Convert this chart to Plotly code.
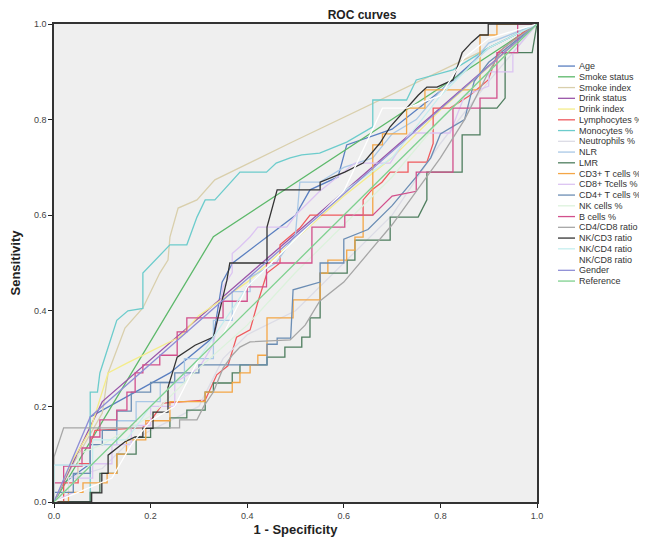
import plotly.graph_objects as go

# ---------------- data ----------------
series_names = ["Age", "Smoke status", "Smoke index", "Drink status", "Drink index",
                "Lymphocytes %", "Monocytes %", "Neutrophils %", "NLR", "LMR",
                "CD3+ T cells %", "CD8+ Tcells %", "CD4+ T cells %", "NK cells %",
                "B cells %", "CD4/CD8 ratio", "NK/CD3 ratio", "NK/CD4 ratio",
                "NK/CD8 ratio", "Gender", "Reference"]

series_colors = ["#5a7fc0", "#5cb86a", "#d9cfac", "#9a55a8", "#f4ec8a",
                 "#ef5a5e", "#6ccccc", "#dcdce6", "#a9c8e6", "#4e7d5e",
                 "#f4a646", "#dcc4f2", "#6b8db4", "#dcf2dc",
                 "#d2508c", "#a6a6a6", "#333333", "#c6eeee",
                 "#ffffff", "#8e8ed6", "#7ed08e"]

age_x = [0, 0.02, 0.075, 0.075, 0.24, 0.33, 0.348, 0.37, 0.5, 0.53, 0.588, 0.606, 0.7, 0.8, 0.9, 1]
age_y = [0, 0.04, 0.08, 0.178, 0.27, 0.345, 0.46, 0.5, 0.6, 0.653, 0.68, 0.747, 0.78, 0.86, 0.95, 1]

smoke_status_x = [0, 0.33, 1]
smoke_status_y = [0, 0.555, 1]

smoke_index_x = [0, 0.04, 0.1, 0.112, 0.147, 0.184, 0.219, 0.236, 0.24, 0.257, 0.296, 0.333, 0.489, 0.882, 1]
smoke_index_y = [0, 0.08, 0.186, 0.27, 0.364, 0.406, 0.479, 0.506, 0.554, 0.615, 0.632, 0.674, 0.751, 0.941, 1]

drink_status_x = [0, 0.1, 1]
drink_status_y = [0, 0.21, 1]

drink_index_x = [0, 0.04, 0.075, 0.112, 0.15, 0.26, 0.3, 0.4, 0.5, 0.6, 0.7, 0.8, 0.9, 1]
drink_index_y = [0, 0.09, 0.15, 0.27, 0.29, 0.345, 0.39, 0.46, 0.55, 0.64, 0.72, 0.82, 0.91, 1]

lympho_x = [0, 0.02, 0.02, 0.05, 0.05, 0.075, 0.075, 0.085, 0.182, 0.2, 0.226, 0.313, 0.337, 0.36,
            0.378, 0.406, 0.422, 0.441, 0.468, 0.468, 0.509, 0.53, 0.64, 0.64, 0.658, 0.679, 0.696,
            0.733, 0.733, 0.772, 0.785, 0.785, 0.82, 0.86, 0.899, 0.919, 0.986, 1]
lympho_y = [0, 0, 0.04, 0.04, 0.08, 0.08, 0.12, 0.15, 0.155, 0.17, 0.207, 0.213, 0.266, 0.285,
            0.345, 0.36, 0.418, 0.479, 0.5, 0.538, 0.573, 0.6, 0.6, 0.632, 0.653, 0.669, 0.69,
            0.69, 0.711, 0.711, 0.75, 0.824, 0.824, 0.85, 0.883, 0.94, 0.994, 1]

mono_x = [0, 0.075, 0.075, 0.09, 0.095, 0.112, 0.13, 0.153, 0.184, 0.184, 0.209, 0.24, 0.275, 0.296,
          0.313, 0.333, 0.385, 0.44, 0.46, 0.489, 0.513, 0.55, 0.606, 0.66, 0.66, 0.73, 0.75, 0.826, 0.9, 1]
mono_y = [0, 0, 0.23, 0.23, 0.27, 0.324, 0.38, 0.4, 0.405, 0.479, 0.506, 0.538, 0.538, 0.596,
          0.632, 0.632, 0.69, 0.69, 0.709, 0.72, 0.726, 0.73, 0.753, 0.785, 0.841, 0.841, 0.883, 0.904, 0.95, 1]

neutro_x = [0, 0.03, 0.03, 0.1, 0.15, 0.2, 0.3, 0.35, 0.4, 0.5, 0.6, 0.7, 0.8, 0.9, 1]
neutro_y = [0, 0, 0.05, 0.07, 0.12, 0.15, 0.2, 0.3, 0.35, 0.4, 0.5, 0.6, 0.75, 0.88, 1]

nlr_x = [0, 0, 0.075, 0.075, 0.13, 0.13, 0.17, 0.17, 0.22, 0.22, 0.27, 0.27, 0.33, 0.33, 0.369, 0.369,
         0.406, 0.406, 0.46, 0.5, 0.509, 0.55, 0.6, 0.66, 0.7, 0.75, 0.8, 0.85, 0.9, 1]
nlr_y = [0, 0.077, 0.077, 0.12, 0.12, 0.17, 0.17, 0.21, 0.21, 0.25, 0.25, 0.3, 0.3, 0.38, 0.38, 0.44,
         0.44, 0.47, 0.5, 0.56, 0.669, 0.669, 0.7, 0.72, 0.77, 0.8, 0.86, 0.9, 0.96, 1]

lmr_x = [0, 0.075, 0.075, 0.095, 0.095, 0.13, 0.13, 0.17, 0.17, 0.2, 0.2, 0.24, 0.24, 0.275, 0.275,
         0.313, 0.313, 0.33, 0.33, 0.369, 0.369, 0.385, 0.385, 0.441, 0.441, 0.478, 0.478, 0.513,
         0.513, 0.53, 0.53, 0.551, 0.551, 0.607, 0.607, 0.623, 0.623, 0.696, 0.696, 0.754, 0.772,
         0.772, 0.845, 0.845, 0.882, 0.882, 0.917, 0.934, 0.934, 0.99, 1]
lmr_y = [0, 0, 0.02, 0.02, 0.06, 0.06, 0.1, 0.1, 0.135, 0.135, 0.155, 0.155, 0.176, 0.176, 0.192,
         0.192, 0.23, 0.23, 0.249, 0.249, 0.27, 0.27, 0.287, 0.287, 0.303, 0.303, 0.324, 0.324,
         0.345, 0.345, 0.385, 0.385, 0.479, 0.479, 0.506, 0.506, 0.548, 0.548, 0.596, 0.596, 0.632,
         0.69, 0.69, 0.768, 0.768, 0.824, 0.824, 0.845, 0.94, 0.94, 1]

cd3_x = [0, 0.03, 0.03, 0.06, 0.06, 0.11, 0.11, 0.13, 0.13, 0.15, 0.15, 0.19, 0.19, 0.24, 0.24, 0.313,
         0.313, 0.369, 0.369, 0.385, 0.385, 0.406, 0.406, 0.422, 0.422, 0.441, 0.441, 0.495, 0.495,
         0.551, 0.551, 0.567, 0.567, 0.606, 0.606, 0.623, 0.623, 0.64, 0.64, 0.66, 0.66, 0.68, 0.68,
         0.73, 0.73, 0.768, 0.768, 0.882, 0.882, 0.917, 0.917, 1]
cd3_y = [0, 0, 0.02, 0.02, 0.04, 0.04, 0.06, 0.06, 0.1, 0.1, 0.13, 0.13, 0.17, 0.17, 0.21, 0.21,
         0.23, 0.23, 0.25, 0.25, 0.27, 0.27, 0.287, 0.287, 0.307, 0.307, 0.385, 0.385, 0.423,
         0.423, 0.479, 0.479, 0.506, 0.506, 0.527, 0.527, 0.554, 0.554, 0.6, 0.6, 0.747, 0.747, 0.77,
         0.77, 0.824, 0.824, 0.862, 0.862, 0.977, 0.977, 1, 1]

cd8_x = [0, 0.04, 0.04, 0.08, 0.08, 0.12, 0.12, 0.16, 0.16, 0.2, 0.2, 0.25, 0.25, 0.3, 0.33, 0.35,
         0.369, 0.369, 0.385, 0.406, 0.422, 0.482, 0.5, 0.55, 0.623, 0.696, 0.737, 0.82, 0.85, 0.9,
         0.9, 0.95, 0.95, 1]
cd8_y = [0, 0.02, 0.05, 0.05, 0.08, 0.08, 0.12, 0.12, 0.16, 0.16, 0.2, 0.2, 0.25, 0.28, 0.33, 0.45,
         0.48, 0.52, 0.534, 0.555, 0.575, 0.575, 0.6, 0.65, 0.709, 0.709, 0.772, 0.772, 0.85, 0.87,
         0.9, 0.9, 0.94, 1]

cd4_x = [0, 0, 0.04, 0.04, 0.075, 0.075, 0.1, 0.1, 0.13, 0.13, 0.16, 0.16, 0.2, 0.2, 0.25, 0.25,
         0.3, 0.3, 0.441, 0.441, 0.462, 0.462, 0.49, 0.495, 0.551, 0.551, 0.6, 0.6, 0.65, 0.7,
         0.75, 0.78, 0.8, 0.85, 0.87, 0.9, 0.95, 1]
cd4_y = [0, 0.02, 0.02, 0.06, 0.06, 0.12, 0.12, 0.15, 0.15, 0.19, 0.19, 0.23, 0.23, 0.25, 0.25, 0.27,
         0.27, 0.287, 0.287, 0.33, 0.33, 0.343, 0.343, 0.444, 0.46, 0.5, 0.5, 0.55, 0.57, 0.62,
         0.68, 0.72, 0.77, 0.8, 0.88, 0.92, 0.96, 1]

nk_x = [0, 0.05, 0.05, 0.1, 0.15, 0.2, 0.3, 0.4, 0.5, 0.6, 0.7, 0.8, 0.9, 1]
nk_y = [0, 0.05, 0.1, 0.12, 0.15, 0.18, 0.28, 0.37, 0.48, 0.58, 0.68, 0.8, 0.9, 1]

bcell_x = [0, 0, 0.02, 0.02, 0.058, 0.058, 0.075, 0.075, 0.095, 0.095, 0.13, 0.13, 0.151, 0.151,
           0.168, 0.168, 0.184, 0.184, 0.219, 0.219, 0.255, 0.255, 0.275, 0.275, 0.35, 0.35, 0.4,
           0.4, 0.44, 0.44, 0.534, 0.534, 0.602, 0.602, 0.66, 0.7, 0.75, 0.75, 0.826, 0.826, 0.882,
           0.882, 0.917, 0.917, 0.96, 0.96, 1]
bcell_y = [0, 0.04, 0.04, 0.075, 0.075, 0.113, 0.113, 0.136, 0.136, 0.172, 0.172, 0.192, 0.192,
           0.23, 0.23, 0.27, 0.27, 0.287, 0.287, 0.307, 0.307, 0.356, 0.356, 0.385, 0.385, 0.42,
           0.42, 0.45, 0.45, 0.5, 0.5, 0.575, 0.575, 0.6, 0.6, 0.64, 0.65, 0.69, 0.69, 0.824, 0.824,
           0.845, 0.845, 0.94, 0.94, 1, 1]

cd4cd8_x = [0, 0, 0.02, 0.26, 0.26, 0.296, 0.31, 0.33, 0.35, 0.369, 0.385, 0.406, 0.489, 0.52, 0.55,
            0.6, 0.65, 0.7, 0.75, 0.8, 0.85, 0.882, 0.9, 0.93, 1]
cd4cd8_y = [0, 0.094, 0.155, 0.155, 0.172, 0.172, 0.2, 0.23, 0.28, 0.307, 0.324, 0.335, 0.339, 0.37,
            0.42, 0.46, 0.52, 0.58, 0.65, 0.72, 0.8, 0.862, 0.9, 0.95, 1]

nkcd3_x = [0, 0.078, 0.078, 0.099, 0.099, 0.112, 0.112, 0.133, 0.147, 0.168, 0.184, 0.184, 0.205,
           0.205, 0.236, 0.236, 0.255, 0.292, 0.33, 0.358, 0.364, 0.441, 0.441, 0.462, 0.551, 0.551,
           0.602, 0.64, 0.675, 0.696, 0.73, 0.754, 0.772, 0.793, 0.826, 0.845, 0.865, 0.882, 0.899,
           0.899, 1]
nkcd3_y = [0, 0, 0.019, 0.019, 0.06, 0.06, 0.098, 0.115, 0.126, 0.136, 0.136, 0.154, 0.154, 0.188,
           0.188, 0.24, 0.303, 0.328, 0.345, 0.464, 0.5, 0.5, 0.575, 0.653, 0.653, 0.669, 0.69, 0.709,
           0.751, 0.785, 0.824, 0.851, 0.868, 0.868, 0.883, 0.94, 0.962, 0.977, 0.977, 1, 1]

nkcd4_x = [0, 0, 0.08, 0.08, 0.15, 0.2, 0.3, 0.4, 0.5, 0.6, 0.7, 0.8, 0.9, 1]
nkcd4_y = [0, 0.077, 0.077, 0.13, 0.13, 0.2, 0.3, 0.45, 0.55, 0.65, 0.72, 0.85, 0.95, 1]

nkcd8_x = [0, 0.05, 0.12, 0.16, 0.2, 0.25, 0.3, 0.35, 0.4, 0.5, 0.6, 0.68, 0.73, 0.8, 0.85, 0.9, 1]
nkcd8_y = [0, 0.02, 0.05, 0.12, 0.17, 0.2, 0.3, 0.35, 0.45, 0.55, 0.65, 0.824, 0.824, 0.85, 0.93, 0.97, 1]

gender_x = [0, 0.075, 1]
gender_y = [0, 0.178, 1]

reference_x = [0, 1]
reference_y = [0, 1]

series_x = [age_x, smoke_status_x, smoke_index_x, drink_status_x, drink_index_x, lympho_x, mono_x,
            neutro_x, nlr_x, lmr_x, cd3_x, cd8_x, cd4_x, nk_x, bcell_x, cd4cd8_x, nkcd3_x, nkcd4_x,
            nkcd8_x, gender_x, reference_x]
series_y = [age_y, smoke_status_y, smoke_index_y, drink_status_y, drink_index_y, lympho_y, mono_y,
            neutro_y, nlr_y, lmr_y, cd3_y, cd8_y, cd4_y, nk_y, bcell_y, cd4cd8_y, nkcd3_y, nkcd4_y,
            nkcd8_y, gender_y, reference_y]

tick_vals = [0.0, 0.2, 0.4, 0.6, 0.8, 1.0]

# ---------------- figure ----------------
FONT = "Liberation Sans"
fig = go.Figure()
for name, col, xs, ys in zip(series_names, series_colors, series_x, series_y):
    fig.add_trace(go.Scatter(x=xs, y=ys, mode="lines", name=name,
                             line=dict(color=col, width=1.3), showlegend=False,
                             hoverinfo="name"))

# compact legend built from text annotations with short line samples
leg_top = 0.912   # paper y of first entry
leg_step = 0.02249
for i, (name, col) in enumerate(zip(series_names, series_colors)):
    yy = leg_top - i * leg_step
    fig.add_shape(type="line", xref="paper", yref="paper",
                  x0=1.0435, x1=1.0787, y0=yy, y1=yy,
                  line=dict(color=col, width=1.3))
    fig.add_annotation(xref="paper", yref="paper", x=1.083, y=yy, text=name,
                       showarrow=False, xanchor="left", yanchor="middle",
                       font=dict(family=FONT, size=9, color="#333333"))

fig.update_layout(
    width=639, height=538,
    margin=dict(l=46, r=110, t=16, b=44),
    paper_bgcolor="white", plot_bgcolor="#efefef",
    font=dict(family=FONT, size=9, color="#444444"),
    showlegend=False,
    title=dict(text="<b>ROC curves</b>", x=0.554, xanchor="center", y=1.0, yanchor="top",
               pad=dict(t=3, b=0, l=0, r=0),
               font=dict(family=FONT, size=12, color="#222222")),
    xaxis=dict(range=[0, 1], tickvals=tick_vals, tickformat=".1f", showgrid=False, zeroline=False,
               ticks="outside", ticklen=4, tickcolor="#222222", showline=True, linecolor="#333333",
               linewidth=1.5, mirror=True, automargin=False,
               title=dict(text="<b>1 - Specificity</b>", standoff=5,
                          font=dict(family=FONT, size=13, color="#222222"))),
    yaxis=dict(range=[0, 1], tickvals=tick_vals, tickformat=".1f", showgrid=False, zeroline=False,
               ticks="outside", ticklen=4, tickcolor="#222222", showline=True, linecolor="#333333",
               linewidth=1.5, mirror=True, automargin=False,
               title=dict(text="<b>Sensitivity</b>", standoff=14,
                          font=dict(family=FONT, size=13, color="#222222"))),
)

fig.write_html("out.html")
